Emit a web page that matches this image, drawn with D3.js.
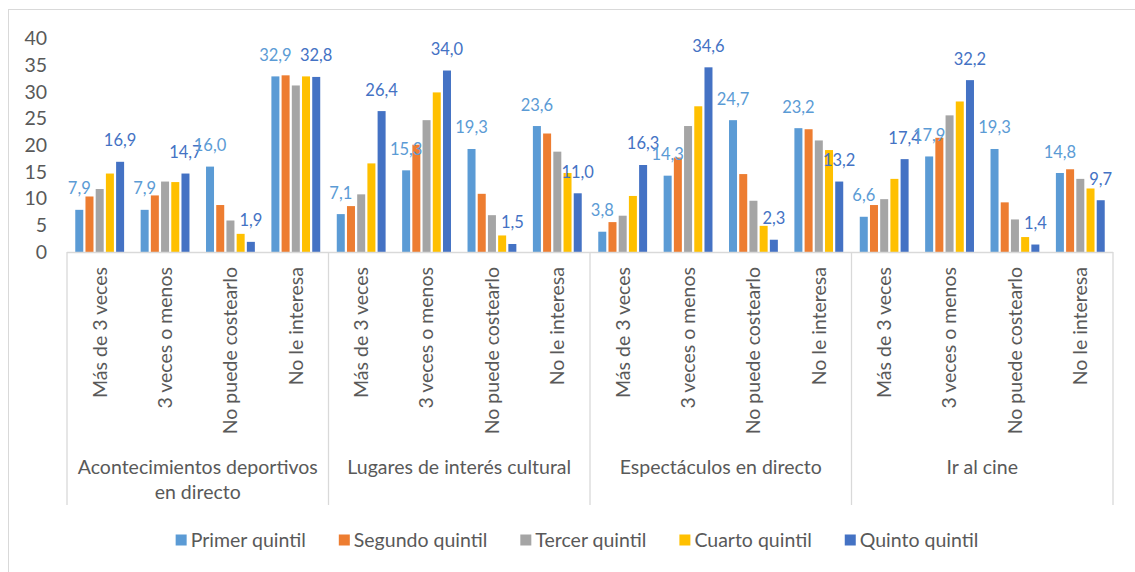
<!DOCTYPE html>
<html><head><meta charset="utf-8">
<script src="https://cdn.jsdelivr.net/npm/d3@7"></script>
<style>
html,body{margin:0;padding:0;background:#fff;}
svg{display:block;}
text{font-family:Lato,"Open Sans",sans-serif;fill:#595959;}
</style></head>
<body>
<svg id="chart" width="1135" height="572"></svg>
<script>
const categories = ["Más de 3 veces","3 veces o menos","No puede costearlo","No le interesa"];
const groups = [["Acontecimientos deportivos","en directo"],["Lugares de interés cultural"],["Espectáculos en directo"],["Ir al cine"]];
const seriesNames = ["Primer quintil","Segundo quintil","Tercer quintil","Cuarto quintil","Quinto quintil"];
const seriesColors = ["#5B9BD5","#ED7D31","#A5A5A5","#FFC000","#4472C4"];
const primer  = [7.9, 7.9, 16.0, 32.9, 7.1, 15.3, 19.3, 23.6, 3.8, 14.3, 24.7, 23.2, 6.6, 17.9, 19.3, 14.8];
const segundo = [10.4, 10.6, 8.8, 33.1, 8.6, 20.1, 10.9, 22.2, 5.6, 17.7, 14.6, 23.0, 8.8, 21.4, 9.3, 15.5];
const tercer  = [11.8, 13.2, 5.9, 31.2, 10.8, 24.7, 6.9, 18.8, 6.8, 23.6, 9.6, 20.9, 9.9, 25.6, 6.1, 13.7];
const cuarto  = [14.7, 13.1, 3.4, 32.9, 16.6, 29.9, 3.1, 14.8, 10.5, 27.3, 4.9, 19.1, 13.7, 28.2, 2.8, 11.9];
const quinto  = [16.9, 14.7, 1.9, 32.8, 26.4, 34.0, 1.5, 11.0, 16.3, 34.6, 2.3, 13.2, 17.4, 32.2, 1.4, 9.7];
const yTicks = [0,5,10,15,20,25,30,35,40];
const labeledSeries = [0,4];

const seriesValues = [primer, segundo, tercer, cuarto, quinto];
const svg = d3.select("#chart");
const left = 67, right = 1113, y0 = 252, yTop = 38.5;
const nCat = groups.length * categories.length;
const keys = d3.range(nCat);

const x0 = d3.scaleBand().domain(keys).range([left, right]).paddingInner(0).paddingOuter(0);
const x1 = d3.scaleBand().domain(d3.range(seriesNames.length)).range([0, x0.bandwidth()])
  .paddingInner(0.216).paddingOuter(0.81);
const y = d3.scaleLinear().domain([0, 40]).range([y0, yTop]);
const xg = d3.scaleBand().domain(d3.range(groups.length)).range([left, right]);

// outer chart border
svg.append("rect").attr("x",8.5).attr("y",9.5).attr("width",1140).attr("height",580)
  .attr("fill","none").attr("stroke","#D9D9D9").attr("stroke-width",1);

// y axis labels
const yAxis = d3.axisLeft(y).tickValues(yTicks).tickSize(0).tickPadding(0).tickFormat(d3.format("d"));
const ya = svg.append("g").attr("transform","translate(47,0)").call(yAxis);
ya.select(".domain").remove();
ya.selectAll("text").attr("font-size","19.5px").attr("fill","#595959").style("font-family","Lato");

// bars
const data = [];
keys.forEach(k => seriesValues.forEach((arr, s) => data.push({k, s, v: arr[k]})));
svg.append("g").selectAll("rect").data(data).join("rect")
  .attr("x", d => x0(d.k) + x1(d.s))
  .attr("width", x1.bandwidth())
  .attr("y", d => y(d.v))
  .attr("height", d => y0 - y(d.v))
  .attr("fill", d => seriesColors[d.s]);

// category box
const box = svg.append("g").attr("stroke","#D9D9D9").attr("stroke-width",1.3);
box.append("line").attr("x1",left).attr("x2",right).attr("y1",y0+0.5).attr("y2",y0+0.5);
xg.domain().concat([groups.length]).forEach(i => {
  const xx = i < groups.length ? xg(i) : right;
  box.append("line").attr("x1",xx).attr("x2",xx).attr("y1",y0).attr("y2",505);
});

// data labels
const fmt = v => d3.format(".1f")(v).replace(".", ",");
svg.append("g").selectAll("text").data(data.filter(d => labeledSeries.includes(d.s))).join("text")
  .attr("x", d => x0(d.k) + x1(d.s) + x1.bandwidth()/2)
  .attr("y", d => y(d.v) - 15.5)
  .attr("text-anchor","middle")
  .attr("font-size","16.5px")
  .style("fill", d => seriesColors[d.s])
  .text(d => fmt(d.v));

// category labels (rotated)
svg.append("g").selectAll("text").data(keys).join("text")
  .attr("transform", k => `translate(${x0(k) + x0.bandwidth()/2},267) rotate(-90)`)
  .attr("text-anchor","end").attr("dy","0.35em")
  .attr("font-size","19.5px")
  .text(k => categories[k % categories.length]);

// group labels
const gl = svg.append("g");
groups.forEach((lines, i) => {
  lines.forEach((ln, j) => {
    gl.append("text").attr("x", xg(i) + xg.bandwidth()/2).attr("y", 474 + j*25)
      .attr("text-anchor","middle").attr("font-size","19.5px").text(ln);
  });
});

// legend
const lg = svg.append("g");
let cx = 0;
const items = [];
seriesNames.forEach((nm, i) => {
  const g = lg.append("g");
  g.append("rect").attr("x",0).attr("y",-5.5).attr("width",11).attr("height",11).attr("fill",seriesColors[i]);
  const t = g.append("text").attr("x",15).attr("y",0).attr("dy","0.35em").attr("font-size","19.5px").text(nm);
  const w = 15 + t.node().getComputedTextLength();
  g.attr("transform", `translate(${cx},540)`);
  items.push(g);
  cx += w + 33;
});
const total = cx - 33;
lg.attr("transform", `translate(${577 - total/2},0)`);
</script>
</body></html>
